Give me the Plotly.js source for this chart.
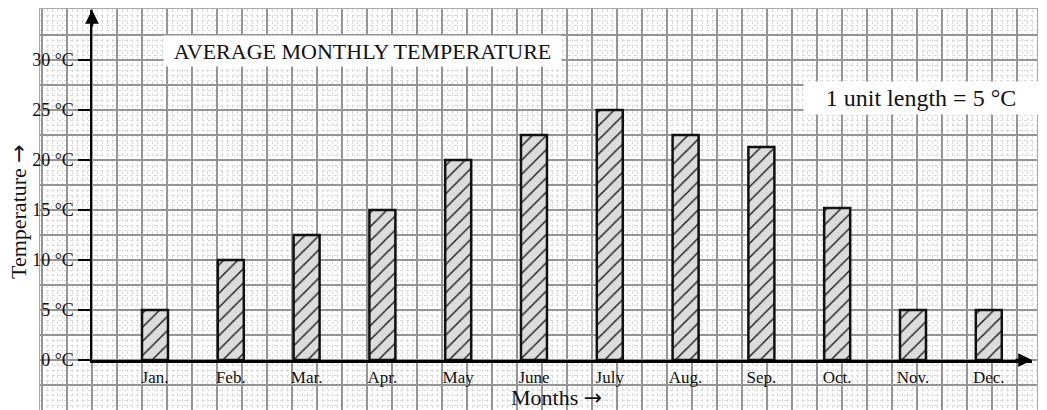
<!DOCTYPE html>
<html>
<head>
<meta charset="utf-8">
<script src="https://cdn.plot.ly/plotly-3.0.1.min.js"></script>
<style>html,body{margin:0;padding:0;background:#fff;}#chart{width:1047px;height:410px;}</style>
</head>
<body>
<div id="chart"></div>
<script>
// ---- data ----
const months = ["Jan.", "Feb.", "Mar.", "Apr.", "May", "June", "July", "Aug.", "Sep.", "Oct.", "Nov.", "Dec."];
const temperatures = [5, 10, 12.5, 15, 20, 22.5, 25, 22.5, 21.3, 15.2, 5, 5];
const yTickValues = [0, 5, 10, 15, 20, 25, 30];
const yTickLabels = yTickValues.map(v => v + " °C");

// ---- layout helpers (pixel geometry of the page) ----
const W = 1047, H = 410;
const px = v => v / W;          // x pixel -> paper fraction
const py = v => 1 - v / H;      // y pixel -> paper fraction
const serif = "Liberation Serif, Times New Roman, serif";
const ARROW = '<span style="font-family:DejaVu Sans">→</span>';

const bars = {
  type: "bar",
  x: months,
  y: temperatures,
  xaxis: "x2",
  yaxis: "y2",
  marker: {
    color: "#dcdcdc",
    line: {color: "#111", width: 2.5},
    pattern: {shape: "/", fgcolor: "#222", bgcolor: "#dcdcdc", size: 10, solidity: 0.15}
  },
  hoverinfo: "skip"
};

// empty trace so that the graph-paper subplot is drawn
const paperGrid = {type: "scatter", x: [], y: [], xaxis: "x", yaxis: "y", mode: "none", hoverinfo: "skip", showlegend: false};

const layout = {
  width: W, height: H,
  margin: {l: 0, r: 0, t: 0, b: 0, pad: 0},
  paper_bgcolor: "#ffffff",
  plot_bgcolor: "rgba(0,0,0,0)",
  showlegend: false,
  hovermode: false,
  bargap: 0.657,
  font: {family: serif, color: "#111"},
  // graph-paper grid
  xaxis: {
    domain: [px(40), px(1037)], range: [40, 1037], anchor: "y",
    tick0: 92, dtick: 25, showticklabels: false, ticks: "",
    showgrid: true, gridcolor: "#959595", gridwidth: 1.2,
    minor: {tick0: 92, dtick: 5, showgrid: true, gridcolor: "#dadada", gridwidth: 1, griddash: "dot", ticks: ""},
    zeroline: false, showline: true, mirror: true, linecolor: "#aaa", linewidth: 1, fixedrange: true
  },
  yaxis: {
    domain: [0, py(9)], range: [-5, 35.1], anchor: "x",
    tick0: 0, dtick: 2.5, showticklabels: false, ticks: "",
    showgrid: true, gridcolor: "#959595", gridwidth: 1.2,
    minor: {tick0: 0, dtick: 0.5, showgrid: true, gridcolor: "#dadada", gridwidth: 1, griddash: "dot", ticks: ""},
    zeroline: false, showline: true, mirror: true, linecolor: "#aaa", linewidth: 1, fixedrange: true
  },
  // data axes
  xaxis2: {
    domain: [px(92), px(1032)], anchor: "y2", type: "category",
    categoryorder: "array", categoryarray: months,
    range: [-0.831, 11.57],
    showgrid: false, zeroline: false, showline: true, linecolor: "#000", linewidth: 2.5,
    ticks: "", tickfont: {family: serif, size: 17, color: "#111"}, fixedrange: true
  },
  yaxis2: {
    domain: [py(360), py(10)], anchor: "x2", range: [0, 35],
    showgrid: false, zeroline: false, showline: true, linecolor: "#000", linewidth: 2.5,
    ticks: "outside", ticklen: 12, tickwidth: 2.5, tickcolor: "#000",
    tickvals: yTickValues, ticktext: yTickLabels,
    tickfont: {family: serif, size: 18, color: "#111"}, fixedrange: true
  },
  annotations: [
    {text: "AVERAGE MONTHLY TEMPERATURE", xref: "paper", yref: "paper", x: px(362), y: py(51),
     xanchor: "center", yanchor: "middle", showarrow: false, bgcolor: "#fff", width: 395, height: 28,
     font: {family: serif, size: 22, color: "#111"}},
    {text: "1 unit length = 5 °C", xref: "paper", yref: "paper", x: px(921), y: py(98),
     xanchor: "center", yanchor: "middle", showarrow: false, bgcolor: "#fff", width: 232, height: 30,
     font: {family: serif, size: 24, color: "#111"}},
    {text: "Months " + ARROW, xref: "paper", yref: "paper", x: px(556), y: py(397),
     xanchor: "center", yanchor: "middle", showarrow: false,
     font: {family: serif, size: 22, color: "#111"}},
    {text: "Temperature " + ARROW, xref: "paper", yref: "paper", x: px(18), y: py(212), textangle: -90,
     xanchor: "center", yanchor: "middle", showarrow: false,
     font: {family: serif, size: 22, color: "#111"}},
    // arrow heads on the axes
    {text: "", xref: "paper", yref: "paper", x: px(92), y: py(10), ax: 0, ay: 18,
     showarrow: true, arrowhead: 2, arrowwidth: 2.5, arrowsize: 1.1, arrowcolor: "#000"},
    {text: "", xref: "paper", yref: "paper", x: px(1032), y: py(360), ax: -18, ay: 0,
     showarrow: true, arrowhead: 2, arrowwidth: 2.5, arrowsize: 1.1, arrowcolor: "#000"}
  ]
};

Plotly.newPlot("chart", [paperGrid, bars], layout, {staticPlot: true, displayModeBar: false});
</script>
</body>
</html>
